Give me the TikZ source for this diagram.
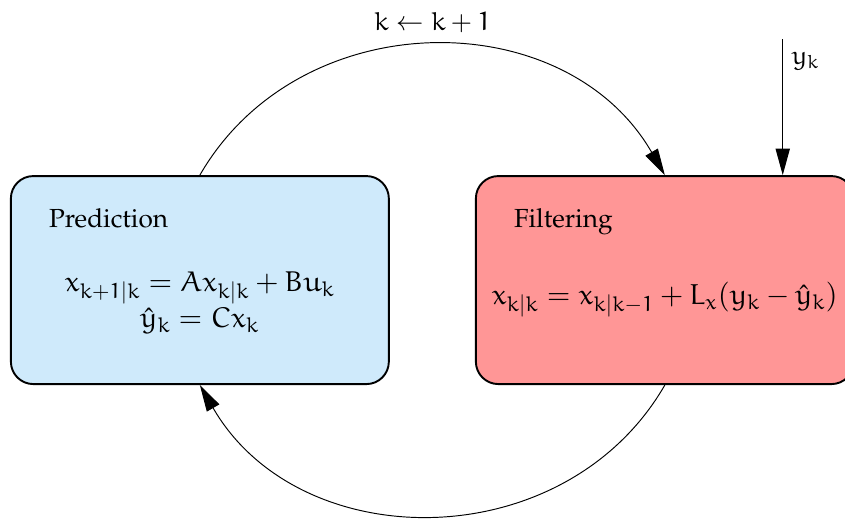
\documentclass[tikz,border=0pt,11pt]{standalone}
\usepackage[T1]{fontenc}
\usepackage{mathpazo}
\usepackage{amsmath}
\usepackage{tikz}
\usetikzlibrary{arrows.meta,positioning}
% Euler letters and digits for math
\DeclareSymbolFont{letters}{U}{eur}{m}{n}
\SetSymbolFont{letters}{bold}{U}{eur}{b}{n}
\DeclareMathSymbol{1}{\mathord}{letters}{"31}

\definecolor{predblue}{RGB}{207,234,251}
\definecolor{filtred}{RGB}{255,150,150}

\begin{document}
\begin{tikzpicture}[
  stagebox/.style={draw,thick,rounded corners=0.33cm,minimum width=5.56cm,minimum height=3.06cm},
  stagelbl/.style={anchor=base west},
  flow/.style={-{Triangle[length=3.9mm,width=2.1mm]}}
]
\useasboundingbox (0,0) rectangle (12.43,7.62);
% the two stages
\node[stagebox,fill=predblue] (pred) at (2.94,3.50) {};
\node[stagebox,fill=filtred] (filt) at (9.78,3.50) {};
\node[stagelbl] (predlbl) at ([xshift=0.44cm,yshift=-0.765cm]pred.north west) {Prediction};
\node[stagelbl] (filtlbl) at ([xshift=0.44cm,yshift=-0.765cm]filt.north west) {Filtering};
\node[align=center,font=\large] (predeq) at ([yshift=-0.33cm]pred.center) {$x_{k+1|k} = Ax_{k|k} + Bu_k$\\[1pt]$\hat{y}_k = Cx_k$};
\node[font=\large] (filteq) at ([yshift=-0.29cm]filt.center) {$x_{k|k} = x_{k|k-1} + L_x(y_k - \hat{y}_k)$};
% loop
\draw[flow] (pred.north) to[bend left=60,looseness=1.1] node[above,yshift=1.5pt] (steplbl) {$k \leftarrow k+1$} (filt.north);
\draw[flow] (filt.south) to[bend left=60,looseness=1.1] (pred.south);
% measurement
\coordinate (meas) at ([xshift=-1.06cm,yshift=2cm]filt.north east);
\draw[flow] (meas) -- node[right,pos=0.16] (measlbl) {$y_k$} (meas |- filt.north);
\end{tikzpicture}
\end{document}
